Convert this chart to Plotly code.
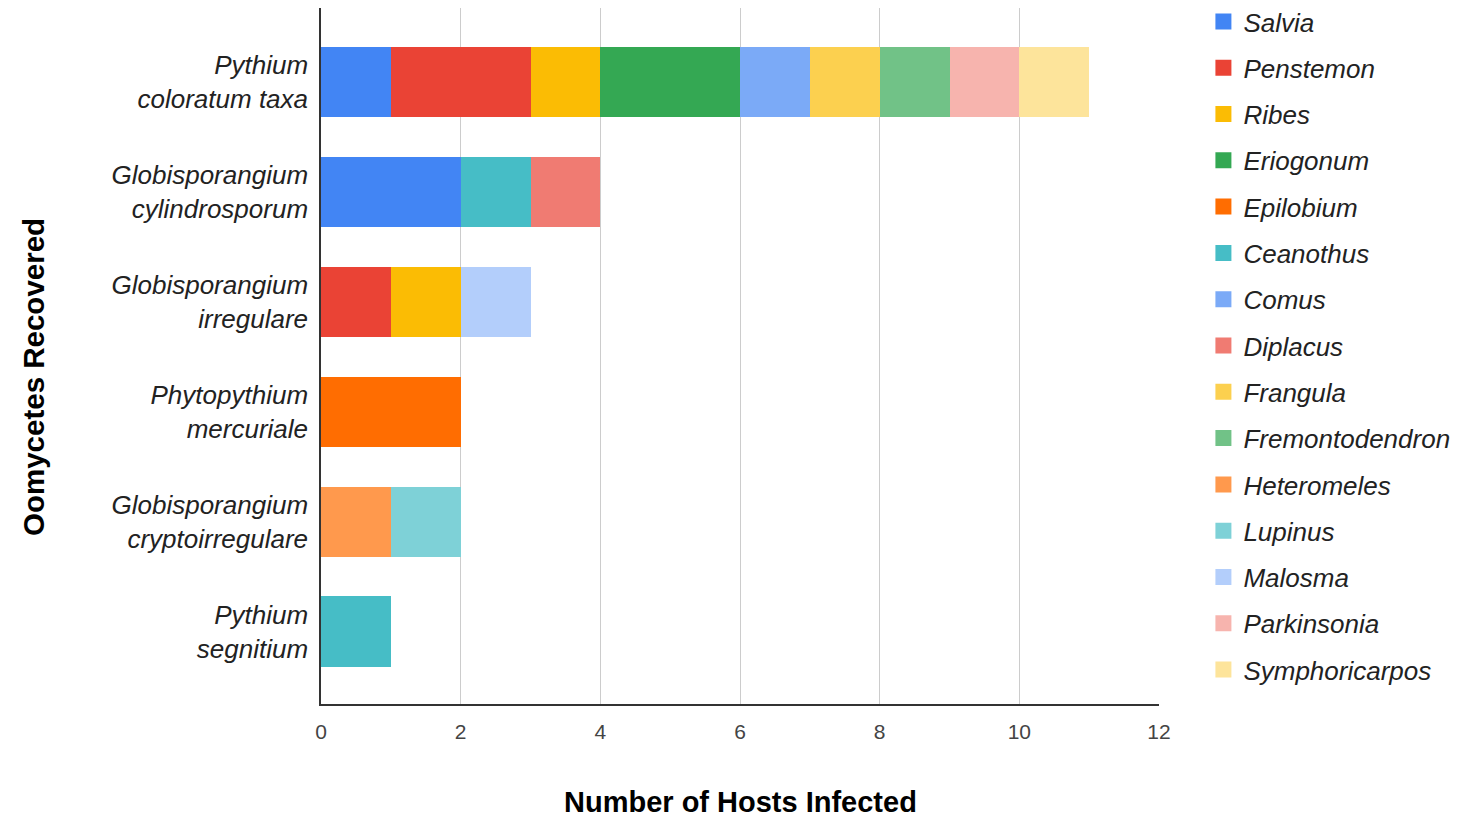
import plotly.graph_objects as go

categories = [
    "Pythium coloratum taxa",
    "Globisporangium cylindrosporum",
    "Globisporangium irregulare",
    "Phytopythium mercuriale",
    "Globisporangium cryptoirregulare",
    "Pythium segnitium",
]
tick_labels = [
    "<i>Pythium<br>coloratum taxa</i>",
    "<i>Globisporangium<br>cylindrosporum</i>",
    "<i>Globisporangium<br>irregulare</i>",
    "<i>Phytopythium<br>mercuriale</i>",
    "<i>Globisporangium<br>cryptoirregulare</i>",
    "<i>Pythium<br>segnitium</i>",
]

hosts = ["Salvia", "Penstemon", "Ribes", "Eriogonum", "Epilobium", "Ceanothus",
         "Comus", "Diplacus", "Frangula", "Fremontodendron", "Heteromeles",
         "Lupinus", "Malosma", "Parkinsonia", "Symphoricarpos"]
colors = ["#4285F4", "#EA4335", "#FBBC04", "#34A853", "#FF6D01", "#46BDC6",
          "#7BAAF7", "#F07B72", "#FCD04F", "#71C287", "#FF994D",
          "#7ED1D7", "#B3CEFB", "#F7B4AE", "#FDE49B"]

# values per host, in category order
salvia          = [1, 2, 0, 0, 0, 0]
penstemon       = [2, 0, 1, 0, 0, 0]
ribes           = [1, 0, 1, 0, 0, 0]
eriogonum       = [2, 0, 0, 0, 0, 0]
epilobium       = [0, 0, 0, 2, 0, 0]
ceanothus       = [0, 1, 0, 0, 0, 1]
comus           = [1, 0, 0, 0, 0, 0]
diplacus        = [0, 1, 0, 0, 0, 0]
frangula        = [1, 0, 0, 0, 0, 0]
fremontodendron = [1, 0, 0, 0, 0, 0]
heteromeles     = [0, 0, 0, 0, 1, 0]
lupinus         = [0, 0, 0, 0, 1, 0]
malosma         = [0, 0, 1, 0, 0, 0]
parkinsonia     = [1, 0, 0, 0, 0, 0]
symphoricarpos  = [1, 0, 0, 0, 0, 0]

values = [salvia, penstemon, ribes, eriogonum, epilobium, ceanothus, comus,
          diplacus, frangula, fremontodendron, heteromeles, lupinus, malosma,
          parkinsonia, symphoricarpos]

x_ticks = [0, 2, 4, 6, 8, 10, 12]

FONT = "Liberation Sans, Arial, sans-serif"

fig = go.Figure()
for i, (h, c, v) in enumerate(zip(hosts, colors, values)):
    fig.add_trace(go.Bar(
        y=categories,
        x=[val if val else None for val in v],
        name=f"<i>{h}</i>",
        orientation="h",
        marker=dict(color=c, line=dict(width=0)),
        legendgroup=f"g{i}",
        showlegend=False,
    ))
    # legend entry with a larger square swatch
    fig.add_trace(go.Scatter(
        x=[None], y=[None],
        mode="markers",
        name=f"<i>{h}</i>",
        marker=dict(color=c, symbol="square", size=16, line=dict(width=0)),
        legendgroup=f"g{i}",
        showlegend=True,
        hoverinfo="skip",
    ))

PLOT_H = 696
PLOT_W = 838

fig.update_layout(
    barmode="stack",
    bargap=0.355,
    width=1473,
    height=820,
    margin=dict(l=321, r=314, t=8, b=116, autoexpand=False),
    paper_bgcolor="white",
    plot_bgcolor="white",
    font=dict(family=FONT, color="#222222"),
    legend=dict(
        x=1.053, xanchor="left", xref="paper",
        y=(PLOT_H + 10) / PLOT_H, yanchor="top", yref="paper",
        font=dict(size=26, color="#222222"),
        traceorder="grouped",
        tracegroupgap=9.5,
        itemsizing="trace",
        itemclick=False,
        maxheight=820,
    ),
    showlegend=True,
    annotations=[
        dict(
            text="<b>Oomycetes Recovered</b>",
            xref="paper", yref="paper",
            x=(33 - 321) / PLOT_W, y=(704 - 377) / PLOT_H,
            xanchor="center", yanchor="middle",
            textangle=-90, showarrow=False,
            font=dict(size=29.5, color="#000000", family=FONT),
        ),
        dict(
            text="<b>Number of Hosts Infected</b>",
            xref="paper", yref="paper",
            x=(740 - 321) / PLOT_W, y=(704 - 802) / PLOT_H,
            xanchor="center", yanchor="middle",
            showarrow=False,
            font=dict(size=29, color="#000000", family=FONT),
        ),
    ],
)

fig.update_xaxes(
    range=[0, 12],
    tickvals=x_ticks,
    ticktext=[str(t) for t in x_ticks],
    tickfont=dict(size=21, color="#444444"),
    showgrid=True,
    gridcolor="#cccccc",
    gridwidth=1,
    zeroline=False,
    showline=True,
    linecolor="#333333",
    linewidth=1.5,
    ticks="",
    ticklabelstandoff=8,
    automargin=False,
)

fig.update_yaxes(
    categoryorder="array",
    categoryarray=categories,
    tickvals=categories,
    ticktext=tick_labels,
    range=[5.655, -0.673],
    tickfont=dict(size=26, color="#222222"),
    showgrid=False,
    zeroline=False,
    showline=True,
    linecolor="#333333",
    linewidth=1.5,
    ticks="",
    ticklabelstandoff=6,
    automargin=False,
)

fig.write_html("out.html")
